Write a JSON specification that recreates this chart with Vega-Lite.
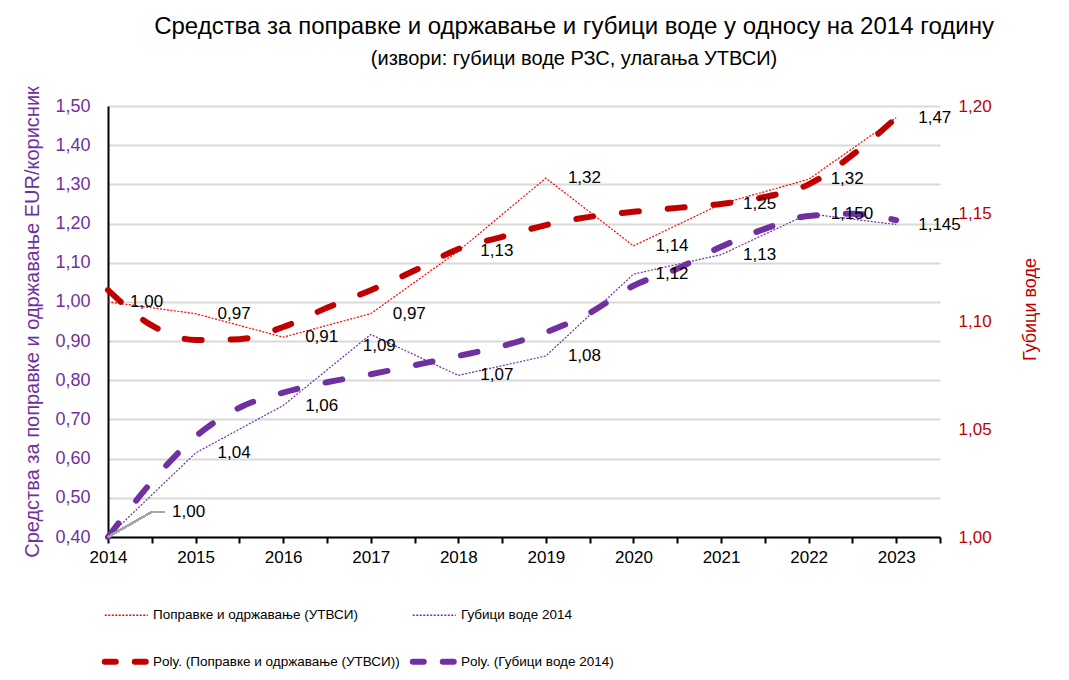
{
  "$schema": "https://vega.github.io/schema/vega-lite/v6.json",
  "width": 832,
  "height": 431,
  "autosize": {"type": "none"},
  "padding": {"left": 108, "top": 106, "right": 129, "bottom": 143},
  "background": "white",
  "config": {"view": {"stroke": null}},
  "title": {
    "text": "Средства за поправке и одржавање и губици воде у односу на 2014 годину",
    "subtitle": "(извори: губици воде РЗС, улагања УТВСИ)",
    "anchor": "middle",
    "frame": "group",
    "dx": 50,
    "offset": 17,
    "font": "Liberation Sans",
    "fontSize": 24,
    "fontWeight": "normal",
    "color": "black",
    "subtitleFont": "Liberation Sans",
    "subtitleFontSize": 20,
    "subtitleColor": "black",
    "subtitlePadding": 10
  },
  "data": {
    "values": [
      {"year": 2014, "series": "Поправке и одржавање (УТВСИ)", "value": 1.00, "label": "1,00"},
      {"year": 2015, "series": "Поправке и одржавање (УТВСИ)", "value": 0.97, "label": "0,97"},
      {"year": 2016, "series": "Поправке и одржавање (УТВСИ)", "value": 0.91, "label": "0,91"},
      {"year": 2017, "series": "Поправке и одржавање (УТВСИ)", "value": 0.97, "label": "0,97"},
      {"year": 2018, "series": "Поправке и одржавање (УТВСИ)", "value": 1.13, "label": "1,13"},
      {"year": 2019, "series": "Поправке и одржавање (УТВСИ)", "value": 1.316, "label": "1,32"},
      {"year": 2020, "series": "Поправке и одржавање (УТВСИ)", "value": 1.143, "label": "1,14"},
      {"year": 2021, "series": "Поправке и одржавање (УТВСИ)", "value": 1.25, "label": "1,25"},
      {"year": 2022, "series": "Поправке и одржавање (УТВСИ)", "value": 1.313, "label": "1,32"},
      {"year": 2023, "series": "Поправке и одржавање (УТВСИ)", "value": 1.47, "label": "1,47"},
      {"year": 2014, "series": "Губици воде  2014", "value": 1.000, "label": "1,00"},
      {"year": 2015, "series": "Губици воде  2014", "value": 1.039, "label": "1,04"},
      {"year": 2016, "series": "Губици воде  2014", "value": 1.061, "label": "1,06"},
      {"year": 2017, "series": "Губици воде  2014", "value": 1.094, "label": "1,09"},
      {"year": 2018, "series": "Губици воде  2014", "value": 1.075, "label": "1,07"},
      {"year": 2019, "series": "Губици воде  2014", "value": 1.084, "label": "1,08"},
      {"year": 2020, "series": "Губици воде  2014", "value": 1.122, "label": "1,12"},
      {"year": 2021, "series": "Губици воде  2014", "value": 1.131, "label": "1,13"},
      {"year": 2022, "series": "Губици воде  2014", "value": 1.150, "label": "1,150"},
      {"year": 2023, "series": "Губици воде  2014", "value": 1.145, "label": "1,145"},
      {"year": 2014, "series": "Poly. (Поправке и одржавање (УТВСИ))", "value": 1.03},
      {"year": 2014.5, "series": "Poly. (Поправке и одржавање (УТВСИ))", "value": 0.94},
      {"year": 2015, "series": "Poly. (Поправке и одржавање (УТВСИ))", "value": 0.903},
      {"year": 2015.5, "series": "Poly. (Поправке и одржавање (УТВСИ))", "value": 0.905},
      {"year": 2016, "series": "Poly. (Поправке и одржавање (УТВСИ))", "value": 0.936},
      {"year": 2016.5, "series": "Poly. (Поправке и одржавање (УТВСИ))", "value": 0.985},
      {"year": 2017, "series": "Poly. (Поправке и одржавање (УТВСИ))", "value": 1.03},
      {"year": 2017.5, "series": "Poly. (Поправке и одржавање (УТВСИ))", "value": 1.08},
      {"year": 2018, "series": "Poly. (Поправке и одржавање (УТВСИ))", "value": 1.135},
      {"year": 2018.5, "series": "Poly. (Поправке и одржавање (УТВСИ))", "value": 1.166},
      {"year": 2019, "series": "Poly. (Поправке и одржавање (УТВСИ))", "value": 1.196},
      {"year": 2019.5, "series": "Poly. (Поправке и одржавање (УТВСИ))", "value": 1.217},
      {"year": 2020, "series": "Poly. (Поправке и одржавање (УТВСИ))", "value": 1.23},
      {"year": 2020.5, "series": "Poly. (Поправке и одржавање (УТВСИ))", "value": 1.24},
      {"year": 2021, "series": "Poly. (Поправке и одржавање (УТВСИ))", "value": 1.25},
      {"year": 2021.5, "series": "Poly. (Поправке и одржавање (УТВСИ))", "value": 1.268},
      {"year": 2022, "series": "Poly. (Поправке и одржавање (УТВСИ))", "value": 1.30},
      {"year": 2022.5, "series": "Poly. (Поправке и одржавање (УТВСИ))", "value": 1.375},
      {"year": 2023, "series": "Poly. (Поправке и одржавање (УТВСИ))", "value": 1.47},
      {"year": 2014, "series": "Poly. (Губици воде  2014)", "value": 1.000},
      {"year": 2014.5, "series": "Poly. (Губици воде  2014)", "value": 1.0256},
      {"year": 2015, "series": "Poly. (Губици воде  2014)", "value": 1.0466},
      {"year": 2015.5, "series": "Poly. (Губици воде  2014)", "value": 1.060},
      {"year": 2016, "series": "Poly. (Губици воде  2014)", "value": 1.067},
      {"year": 2016.5, "series": "Poly. (Губици воде  2014)", "value": 1.0718},
      {"year": 2017, "series": "Poly. (Губици воде  2014)", "value": 1.0755},
      {"year": 2017.5, "series": "Poly. (Губици воде  2014)", "value": 1.0797},
      {"year": 2018, "series": "Poly. (Губици воде  2014)", "value": 1.084},
      {"year": 2018.5, "series": "Poly. (Губици воде  2014)", "value": 1.0886},
      {"year": 2019, "series": "Poly. (Губици воде  2014)", "value": 1.095},
      {"year": 2019.5, "series": "Poly. (Губици воде  2014)", "value": 1.104},
      {"year": 2020, "series": "Poly. (Губици воде  2014)", "value": 1.1166},
      {"year": 2020.5, "series": "Poly. (Губици воде  2014)", "value": 1.1245},
      {"year": 2021, "series": "Poly. (Губици воде  2014)", "value": 1.1347},
      {"year": 2021.5, "series": "Poly. (Губици воде  2014)", "value": 1.143},
      {"year": 2022, "series": "Poly. (Губици воде  2014)", "value": 1.149},
      {"year": 2022.5, "series": "Poly. (Губици воде  2014)", "value": 1.150},
      {"year": 2023, "series": "Poly. (Губици воде  2014)", "value": 1.147}
    ]
  },
  "encoding": {
    "x": {
      "field": "year",
      "type": "quantitative",
      "scale": {"domain": [2014, 2023.5], "nice": false, "zero": false},
      "axis": {
        "title": null,
        "values": [2014, 2014.5, 2015, 2015.5, 2016, 2016.5, 2017, 2017.5, 2018, 2018.5, 2019, 2019.5, 2020, 2020.5, 2021, 2021.5, 2022, 2022.5, 2023, 2023.5],
        "labelExpr": "datum.value % 1 === 0 ? '' + datum.value : ''",
        "labelFont": "Liberation Sans",
        "labelFontSize": 17,
        "labelColor": "black",
        "labelPadding": 6,
        "labelOverlap": false,
        "labelFlush": false,
        "tickColor": "black",
        "tickWidth": 2,
        "tickSize": 6,
        "domainColor": "black",
        "domainWidth": 2,
        "grid": false
      }
    }
  },
  "layer": [
    {
      "encoding": {
        "y": {
          "field": "value",
          "type": "quantitative",
          "scale": {"domain": [0.4, 1.5], "nice": false, "zero": false},
          "axis": {
            "orient": "left",
            "title": "Средства за поправке и одржавање EUR/корисник",
            "titleFont": "Liberation Sans",
            "titleFontSize": 20,
            "titleFontWeight": "normal",
            "titleColor": "#7030A0",
            "titlePadding": 12,
            "values": [0.4, 0.5, 0.6, 0.7, 0.8, 0.9, 1.0, 1.1, 1.2, 1.3, 1.4, 1.5],
            "labelExpr": "replace(format(datum.value, '.2f'), '.', ',')",
            "labelFont": "Liberation Sans",
            "labelFontSize": 18,
            "labelColor": "#7030A0",
            "labelPadding": 18,
            "ticks": false,
            "tickSize": 0,
            "domainColor": "black",
            "domainWidth": 2,
            "grid": true,
            "gridColor": "#d9d9d9",
            "gridWidth": 2
          }
        }
      },
      "layer": [
        {
          "transform": [{"filter": "datum.series === 'Поправке и одржавање (УТВСИ)'"}],
          "mark": {"type": "line", "strokeWidth": 1.2, "strokeDash": [2, 1.5], "strokeCap": "butt"},
          "encoding": {
            "color": {
              "field": "series", "type": "nominal",
              "scale": {
                "domain": ["Поправке и одржавање (УТВСИ)", "Губици воде  2014", "Poly. (Поправке и одржавање (УТВСИ))", "Poly. (Губици воде  2014)"],
                "range": ["#FF0000", "#7030A0", "#C00000", "#7030A0"]
              },
              "legend": {
                "title": null,
                "orient": "none",
                "direction": "horizontal",
                "legendX": -3,
                "legendY": 502,
                "columns": 2,
                "columnPadding": 0,
                "rowPadding": 27,
                "padding": 0,
                "symbolType": "stroke",
                "symbolSize": 1849,
                "symbolOffset": 14.5,
                "labelFont": "Liberation Sans",
                "labelFontSize": 13.5,
                "labelColor": "black",
                "labelLimit": 500,
                "labelOffset": 20,
                "encode": {
                  "symbols": {
                    "update": {
                      "strokeWidth": {"signal": "(datum.value === 'Poly. (Поправке и одржавање (УТВСИ))' || datum.value === 'Poly. (Губици воде  2014)') ? 6 : 1.5"},
                      "strokeDash": {"signal": "(datum.value === 'Poly. (Поправке и одржавање (УТВСИ))' || datum.value === 'Poly. (Губици воде  2014)') ? [11, 19] : [2, 1.5]"},
                      "strokeCap": {"signal": "(datum.value === 'Poly. (Поправке и одржавање (УТВСИ))' || datum.value === 'Poly. (Губици воде  2014)') ? 'round' : 'butt'"}
                    }
                  }
                }
              }
            }
          }
        },
        {
          "transform": [{"filter": "datum.series === 'Poly. (Поправке и одржавање (УТВСИ))'"}],
          "mark": {"type": "line", "strokeWidth": 6, "strokeDash": [17, 29], "strokeCap": "round", "interpolate": "monotone"},
          "encoding": {"color": {"field": "series", "type": "nominal"}}
        },
        {
          "transform": [{"filter": "datum.series === 'Поправке и одржавање (УТВСИ)'"}],
          "mark": {"type": "text", "align": "left", "baseline": "middle", "dx": 22, "font": "Liberation Sans", "fontSize": 17, "color": "black"},
          "encoding": {"text": {"field": "label"}}
        }
      ]
    },
    {
      "encoding": {
        "y": {
          "field": "value",
          "type": "quantitative",
          "scale": {"domain": [1.0, 1.2], "nice": false, "zero": false},
          "axis": {
            "orient": "right",
            "title": "Губици воде",
            "titleFont": "Liberation Sans",
            "titleFontSize": 18,
            "titleFontWeight": "normal",
            "titleColor": "#C00000",
            "titleAngle": 270,
            "titleBaseline": "top",
            "titlePadding": 30,
            "titleY": 203,
            "values": [1.0, 1.05, 1.1, 1.15, 1.2],
            "labelExpr": "replace(format(datum.value, '.2f'), '.', ',')",
            "labelFont": "Liberation Sans",
            "labelFontSize": 17,
            "labelColor": "#C00000",
            "labelPadding": 18,
            "ticks": false,
            "tickSize": 0,
            "domain": false,
            "grid": false
          }
        }
      },
      "layer": [
        {
          "transform": [{"filter": "datum.series === 'Губици воде  2014'"}],
          "mark": {"type": "line", "strokeWidth": 1.2, "strokeDash": [2, 1.5], "strokeCap": "butt"},
          "encoding": {"color": {"field": "series", "type": "nominal"}}
        },
        {
          "transform": [{"filter": "datum.series === 'Poly. (Губици воде  2014)'"}],
          "mark": {"type": "line", "strokeWidth": 6, "strokeDash": [17, 29], "strokeCap": "round", "interpolate": "monotone"},
          "encoding": {"color": {"field": "series", "type": "nominal"}}
        },
        {
          "mark": {"type": "rule", "color": "#A6A6A6", "strokeWidth": 1.5},
          "encoding": {"x": {"datum": 2014}, "y": {"datum": 1.0}, "x2": {"datum": 2014.5}, "y2": {"datum": 1.0117}}
        },
        {
          "mark": {"type": "rule", "color": "#A6A6A6", "strokeWidth": 1.5},
          "encoding": {"x": {"datum": 2014.5}, "y": {"datum": 1.0117}, "x2": {"datum": 2014.65}, "y2": {"datum": 1.0117}}
        },
        {
          "transform": [{"filter": "datum.series === 'Губици воде  2014' && datum.year !== 2014 && datum.year !== 2017"}],
          "mark": {"type": "text", "align": "left", "baseline": "middle", "dx": 22, "font": "Liberation Sans", "fontSize": 17, "color": "black"},
          "encoding": {"text": {"field": "label"}}
        },
        {
          "transform": [{"filter": "datum.series === 'Губици воде  2014' && datum.year === 2017"}],
          "mark": {"type": "text", "align": "left", "baseline": "middle", "dx": -8, "dy": 12, "font": "Liberation Sans", "fontSize": 17, "color": "black"},
          "encoding": {"text": {"field": "label"}}
        },
        {
          "transform": [{"filter": "datum.series === 'Губици воде  2014' && datum.year === 2014"}],
          "mark": {"type": "text", "align": "left", "baseline": "middle", "dx": 64, "dy": -25, "font": "Liberation Sans", "fontSize": 17, "color": "black"},
          "encoding": {"text": {"field": "label"}}
        }
      ]
    }
  ],
  "resolve": {"scale": {"y": "independent"}}
}
